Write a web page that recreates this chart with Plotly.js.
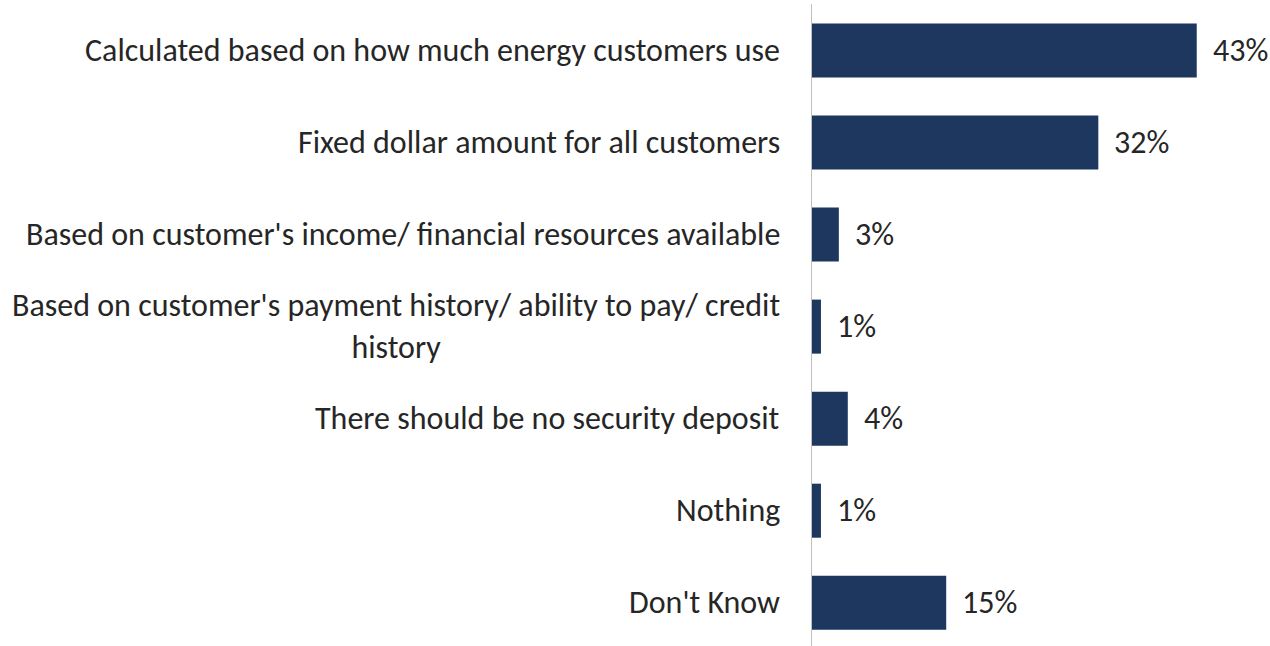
<!DOCTYPE html>
<html>
<head>
<meta charset="utf-8">
<script src="https://cdn.plot.ly/plotly-3.0.1.min.js"></script>
<style>html,body{margin:0;padding:0;background:#fff;}#chart{width:1270px;height:646px;}</style>
</head>
<body>
<div id="chart"></div>
<script>
const categories = [
  "Calculated based on how much energy customers use",
  "Fixed dollar amount for all customers",
  "Based on customer's income/ financial resources available",
  "Based on customer's payment history/ ability to pay/ credit<br>history",
  "There should be no security deposit",
  "Nothing",
  "Don't Know"
];
const values = [43, 32, 3, 1, 4, 1, 15];
const valueLabels = ["43%", "32%", "3%", "1%", "4%", "1%", "15%"];

const FONT = "Carlito, Calibri, 'Open Sans', sans-serif";
const TXT = "#262626";

const trace = {
  type: "bar",
  orientation: "h",
  x: values,
  y: categories,
  width: 0.587,
  marker: {color: "#1d375e"},
  hoverinfo: "none"
};

const annotations = [];
categories.forEach((c, i) => {
  annotations.push({
    xref: "paper", yref: "y", x: 0, y: c,
    text: c, showarrow: false, xanchor: "right", yanchor: "middle",
    xshift: -30, align: "center",
    font: {family: FONT, size: 32, color: TXT}
  });
  annotations.push({
    xref: "x", yref: "y", x: values[i], y: c,
    text: valueLabels[i], showarrow: false, xanchor: "left", yanchor: "middle",
    xshift: 14,
    font: {family: FONT, size: 32, color: TXT}
  });
});

const layout = {
  width: 1270, height: 646,
  margin: {l: 812, r: 10, t: 4, b: 0},
  paper_bgcolor: "#fff", plot_bgcolor: "#fff",
  showlegend: false,
  xaxis: {range: [0, 50.07], visible: false, showgrid: false, zeroline: false},
  yaxis: {
    type: "category",
    range: [6.47, -0.505],
    showticklabels: false,
    showgrid: false, zeroline: false,
    showline: true, linecolor: "#bfbfbf", linewidth: 1.5,
    ticks: ""
  },
  annotations: annotations
};

Plotly.newPlot("chart", [trace], layout, {staticPlot: true, displayModeBar: false});
</script>
</body>
</html>
